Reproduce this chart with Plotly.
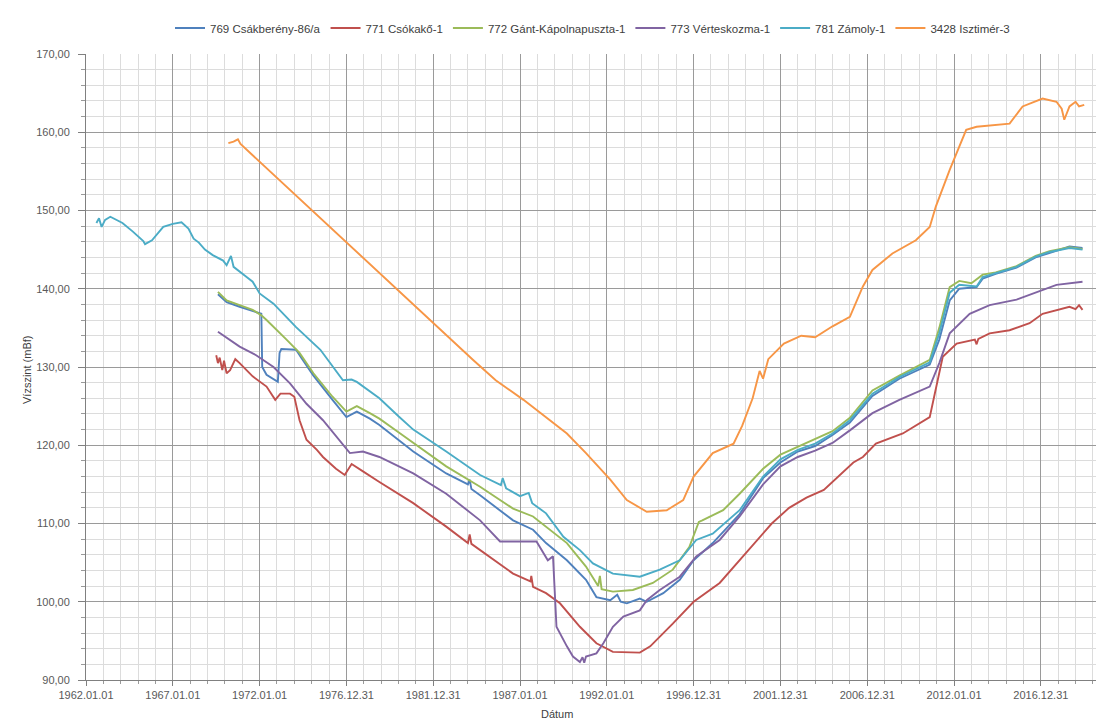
import plotly.graph_objects as go

# ---------------- data (decimal years, water level mBf) ----------------
s769_name = "769 Csákberény-86/a"
s769_x = [1969.6, 1970.1, 1970.85, 1971.6, 1972.1, 1972.15, 1972.4, 1973.05, 1973.15, 1973.25, 1974.1, 1974.4,
          1975.1, 1976.2, 1977.0, 1977.6, 1978.35, 1978.9, 1980.85, 1982.75, 1984.0, 1984.1, 1984.2, 1984.7,
          1986.6, 1987.75, 1988.5, 1989.7, 1990.8, 1991.4, 1992.2, 1992.6, 1992.8, 1993.15, 1993.9, 1994.3,
          1995.25, 1996.2, 1997.0, 1998.1, 1999.65, 2001.0, 2002.0, 2003.0, 2004.0, 2005.0, 2006.0, 2007.3,
          2008.85, 2010.6, 2011.15, 2011.75, 2012.3, 2013.3, 2013.65, 2014.4, 2015.6, 2016.7, 2017.5, 2018.65, 2019.4]
s769_y = [139.3, 138.3, 137.7, 137.1, 136.8, 130.0, 129.0, 128.1, 131.8, 132.3, 132.2, 131.2,
          128.9, 125.8, 123.6, 124.3, 123.4, 122.6, 119.2, 116.4, 115.0, 115.6, 114.4, 113.6,
          110.4, 109.2, 107.5, 105.3, 102.8, 100.6, 100.2, 100.9, 100.0, 99.8, 100.4, 100.0,
          101.1, 102.8, 105.3, 107.5, 111.2, 115.8, 117.8, 119.2, 119.9, 121.3, 122.9, 126.3,
          128.5, 130.3, 133.5, 138.5, 140.0, 140.2, 141.3, 141.9, 142.7, 144.0, 144.6, 145.4, 145.2]

s771_name = "771 Csókakő-1"
s771_x = [1969.5, 1969.6, 1969.7, 1969.85, 1969.95, 1970.1, 1970.3, 1970.6, 1970.85, 1971.6, 1972.4, 1972.9,
          1973.2, 1973.75, 1974.0, 1974.3, 1974.7, 1975.3, 1975.65, 1976.4, 1976.9, 1977.3, 1978.0, 1978.9,
          1980.85, 1982.75, 1984.0, 1984.1, 1984.2, 1984.7, 1986.6, 1987.6, 1987.65, 1987.75, 1988.5, 1989.3,
          1990.45, 1991.4, 1992.35, 1993.9, 1994.5, 1995.8, 1997.0, 1998.5, 1999.65, 2000.5, 2001.5, 2002.5,
          2003.5, 2004.5, 2005.5, 2006.2, 2006.75, 2007.5, 2009.05, 2010.6, 2011.35, 2012.15, 2013.2, 2013.3,
          2013.4, 2014.05, 2015.2, 2016.35, 2017.1, 2017.9, 2018.65, 2019.0, 2019.2, 2019.4]
s771_y = [131.5, 130.5, 131.2, 129.6, 130.8, 129.2, 129.6, 131.0, 130.5, 128.8, 127.5, 125.8,
          126.6, 126.6, 126.2, 123.2, 120.7, 119.4, 118.5, 117.0, 116.2, 117.6, 116.6, 115.3,
          112.6, 109.6, 107.5, 108.6, 107.4, 106.6, 103.6, 102.6, 103.3, 101.9, 101.1, 99.8,
          96.8, 94.7, 93.6, 93.5, 94.3, 97.2, 100.0, 102.4, 105.3, 107.5, 110.0, 112.0,
          113.3, 114.3, 116.3, 117.8, 118.5, 120.2, 121.5, 123.6, 131.3, 133.0, 133.5, 132.9,
          133.6, 134.3, 134.7, 135.6, 136.8, 137.3, 137.7, 137.4, 137.9, 137.3]

s772_name = "772 Gánt-Kápolnapuszta-1"
s772_x = [1969.6, 1970.1, 1970.85, 1971.6, 1972.1, 1972.4, 1973.55, 1974.3, 1975.1, 1976.2, 1977.0, 1977.6,
          1978.35, 1978.9, 1980.1, 1980.85, 1982.75, 1984.7, 1986.6, 1987.75, 1988.5, 1989.7, 1990.8, 1991.5,
          1991.6, 1991.7, 1992.35, 1993.5, 1994.65, 1995.8, 1996.75, 1997.3, 1997.5, 1998.7, 1999.65, 2001.0,
          2002.0, 2003.0, 2004.0, 2005.0, 2006.0, 2007.3, 2008.85, 2010.6, 2011.15, 2011.75, 2012.3, 2013.0,
          2013.65, 2014.4, 2015.6, 2016.7, 2017.5, 2018.65, 2019.4]
s772_y = [139.6, 138.5, 137.9, 137.3, 136.6, 136.0, 133.5, 131.8, 129.2, 126.2, 124.3, 125.0,
          124.1, 123.4, 121.5, 120.3, 117.3, 114.7, 111.9, 110.9, 109.6, 107.5, 104.5, 102.0,
          103.3, 101.6, 101.3, 101.5, 102.4, 104.1, 107.0, 110.2, 110.4, 111.7, 113.8, 117.0,
          118.8, 119.8, 120.7, 121.8, 123.5, 127.0, 128.9, 130.9, 135.0, 140.2, 141.0, 140.7,
          141.8, 142.1, 142.9, 144.2, 144.8, 145.3, 145.1]

s773_name = "773 Vérteskozma-1"
s773_x = [1969.6, 1970.85, 1971.8, 1972.8, 1973.75, 1974.7, 1975.65, 1976.4, 1977.2, 1977.95, 1978.9, 1980.85,
          1982.75, 1984.7, 1985.85, 1987.95, 1988.6, 1988.9, 1989.0, 1989.1, 1989.7, 1990.05, 1990.45, 1990.6,
          1990.7, 1990.8, 1991.4, 1991.8, 1992.35, 1992.95, 1993.9, 1994.3, 1995.05, 1996.2, 1997.15, 1998.5,
          1999.65, 2001.0, 2002.0, 2003.0, 2004.0, 2005.0, 2006.0, 2007.3, 2008.85, 2010.6, 2011.15, 2011.75,
          2012.9, 2014.05, 2015.6, 2017.1, 2017.9, 2019.4]
s773_y = [134.5, 132.6, 131.5, 130.0, 127.9, 125.3, 123.2, 121.1, 119.0, 119.2, 118.5, 116.4,
          113.8, 110.4, 107.7, 107.7, 105.3, 105.8, 100.2, 96.8, 94.3, 93.0, 92.3, 92.9,
          92.2, 93.0, 93.4, 94.7, 96.8, 98.1, 98.9, 100.2, 101.5, 103.2, 105.8, 107.9,
          110.9, 115.0, 117.3, 118.5, 119.3, 120.3, 121.9, 124.1, 125.8, 127.5, 130.5, 134.3,
          136.8, 137.9, 138.6, 139.8, 140.5, 140.9]

s781_name = "781 Zámoly-1"
s781_x = [1962.6, 1962.75, 1962.9, 1963.1, 1963.4, 1964.1, 1964.7, 1965.3, 1965.4, 1965.8, 1966.45, 1967.0,
          1967.5, 1967.9, 1968.2, 1968.5, 1968.85, 1969.3, 1969.9, 1970.1, 1970.35, 1970.5, 1971.25, 1971.6,
          1972.0, 1972.8, 1974.1, 1975.5, 1976.8, 1977.3, 1977.6, 1978.9, 1980.0, 1980.85, 1982.75, 1984.7,
          1985.9, 1986.0, 1986.2, 1987.0, 1987.5, 1987.7, 1988.5, 1989.5, 1990.45, 1991.2, 1992.35, 1993.9,
          1995.05, 1996.2, 1997.15, 1998.1, 1999.65, 2001.0, 2002.0, 2003.0, 2004.0, 2005.0, 2006.0, 2007.3,
          2008.85, 2010.6, 2011.15, 2011.75, 2012.3, 2013.3, 2013.65, 2014.4, 2015.6, 2016.7, 2017.5, 2018.65, 2019.4]
s781_y = [148.4, 149.0, 147.9, 148.8, 149.2, 148.4, 147.3, 146.1, 145.7, 146.2, 147.9, 148.3,
          148.5, 147.7, 146.4, 145.9, 145.0, 144.3, 143.6, 143.0, 144.2, 142.8, 141.5, 140.9,
          139.4, 138.1, 135.1, 132.2, 128.3, 128.4, 128.1, 126.0, 123.7, 122.0, 119.2, 116.2,
          114.9, 115.8, 114.5, 113.5, 113.9, 112.6, 111.3, 108.3, 106.6, 104.9, 103.6, 103.2,
          104.1, 105.3, 107.9, 108.7, 111.7, 116.0, 118.2, 119.4, 120.2, 121.5, 123.2, 126.6,
          128.7, 130.6, 134.3, 139.5, 140.5, 140.3, 141.5, 142.0, 142.8, 144.1, 144.7, 145.2, 145.0]

s3428_name = "3428 Isztimér-3"
s3428_x = [1970.2, 1970.5, 1970.75, 1970.9, 1984.3, 1985.6, 1987.2, 1988.5, 1989.7, 1990.8, 1992.2, 1993.15,
           1994.3, 1995.45, 1996.4, 1997.0, 1998.1, 1999.3, 1999.8, 2000.4, 2000.8, 2001.0, 2001.3, 2002.2,
           2003.2, 2004.0, 2005.0, 2006.0, 2006.75, 2007.3, 2008.45, 2009.8, 2010.6, 2010.95, 2011.75, 2012.7,
           2013.3, 2015.2, 2015.95, 2017.1, 2017.9, 2018.2, 2018.35, 2018.65, 2019.0, 2019.2, 2019.5]
s3428_y = [158.6, 158.8, 159.1, 158.5, 130.9, 128.3, 125.8, 123.6, 121.5, 119.0, 115.6, 113.0,
           111.5, 111.7, 113.0, 116.0, 119.0, 120.2, 122.5, 126.0, 129.5, 128.5, 131.0, 133.0,
           134.0, 133.8, 135.2, 136.4, 140.3, 142.4, 144.5, 146.2, 147.9, 150.5, 155.2, 160.3,
           160.7, 161.1, 163.3, 164.3, 163.9, 163.0, 161.6, 163.3, 163.9, 163.3, 163.5]

x_tick_vals = [1962, 1967, 1972, 1977, 1982, 1987, 1992, 1997, 2002, 2007, 2012, 2017]
x_tick_text = ["1962.01.01", "1967.01.01", "1972.01.01", "1976.12.31", "1981.12.31", "1987.01.01",
               "1992.01.01", "1996.12.31", "2001.12.31", "2006.12.31", "2012.01.01", "2016.12.31"]
y_tick_vals = [90, 100, 110, 120, 130, 140, 150, 160, 170]
y_tick_text = ["90,00", "100,00", "110,00", "120,00", "130,00", "140,00", "150,00", "160,00", "170,00"]

series = [
    (s769_name, s769_x, s769_y, "#4F81BD"),
    (s771_name, s771_x, s771_y, "#C0504D"),
    (s772_name, s772_x, s772_y, "#9BBB59"),
    (s773_name, s773_x, s773_y, "#8064A2"),
    (s781_name, s781_x, s781_y, "#4BACC6"),
    (s3428_name, s3428_x, s3428_y, "#F79646"),
]

# ---------------- figure ----------------
# the page body adds an 8px offset, so the figure is sized/positioned for that
OFF = 8
W, H = 1104 - OFF, 720 - OFF
ML, MR, MT, MB = 86 - OFF, 5, 54 - OFF, 40
PW, PH = W - ML - MR, H - MT - MB

fig = go.Figure()
for name, xs, ys, col in series:
    fig.add_trace(go.Scatter(x=xs, y=ys, name=name, mode="lines",
                             line=dict(color=col, width=1.9)))

font_family = "Liberation Sans, Arial, sans-serif"
fig.update_layout(
    width=W, height=H,
    margin=dict(l=ML, r=MR, t=MT, b=MB, autoexpand=False),
    paper_bgcolor="white",
    plot_bgcolor="white",
    font=dict(family=font_family, size=11, color="#595959"),
    showlegend=True,
    legend=dict(orientation="h", x=0.5, xanchor="center", y=1 + 26 / PH, yanchor="middle",
                font=dict(size=11.5, color="#404040"), bgcolor="rgba(0,0,0,0)",
                itemwidth=30, tracegroupgap=0),
    xaxis=dict(range=[1962, 2020.35], tickmode="array", tickvals=x_tick_vals, ticktext=x_tick_text,
               showgrid=True, gridcolor="#9a9a9a", gridwidth=1,
               showline=True, linecolor="#808080", linewidth=1,
               ticks="outside", ticklen=5, tickcolor="#808080",
               tickfont=dict(size=11, color="#595959"),
               zeroline=False,
               minor=dict(dtick=1, tick0=1962, showgrid=True, gridcolor="#dcdcdc", gridwidth=1,
                          ticks="outside", ticklen=3, tickcolor="#9a9a9a")),
    yaxis=dict(range=[90, 170], tickmode="array", tickvals=y_tick_vals, ticktext=y_tick_text,
               showgrid=True, gridcolor="#9a9a9a", gridwidth=1,
               showline=True, linecolor="#808080", linewidth=1,
               ticks="outside", ticklen=7, tickcolor="#808080",
               ticklabelstandoff=6,
               tickfont=dict(size=11, color="#595959"),
               zeroline=False,
               minor=dict(dtick=2, tick0=90, showgrid=True, gridcolor="#dcdcdc", gridwidth=1,
                          ticks="outside", ticklen=4, tickcolor="#9a9a9a")),
)

# axis titles placed as annotations (page pixel positions converted to paper units)
fig.add_annotation(text="Dátum", xref="paper", yref="paper",
                   x=(557 - OFF - ML) / PW, y=-(714 - OFF - MT - PH) / PH,
                   xanchor="center", yanchor="middle", showarrow=False,
                   font=dict(size=11, color="#404040"))
fig.add_annotation(text="Vízszint (mBf)", xref="paper", yref="paper", textangle=-90,
                   x=(27 - OFF - ML) / PW, y=1 - (370 - OFF - MT) / PH,
                   xanchor="center", yanchor="middle", showarrow=False,
                   font=dict(size=11, color="#404040"))

fig.write_html("out.html")
